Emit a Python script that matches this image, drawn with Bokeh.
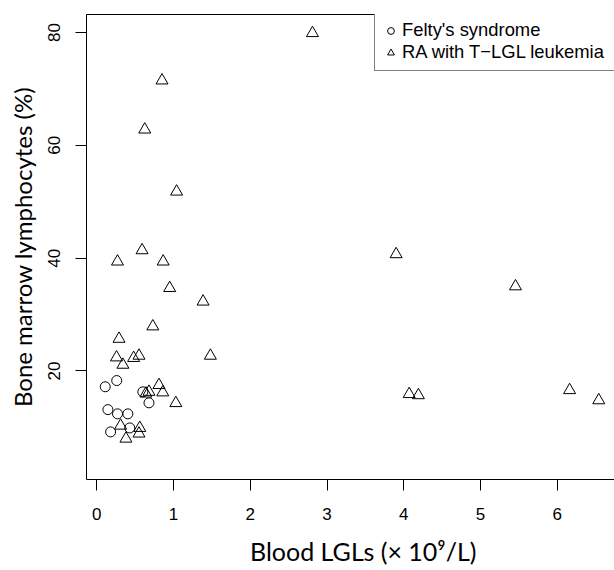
from bokeh.plotting import figure
from bokeh.models import (Range1d, FixedTicker, LinearAxis, Legend, LegendItem)
from bokeh.embed import file_html
from bokeh.resources import INLINE

# Felty's syndrome (circles)
felty_x = [0.11, 0.26, 0.60, 0.68, 0.145, 0.27, 0.405, 0.43, 0.18]
felty_y = [17.2, 18.3, 16.3, 14.35, 13.15, 12.4, 12.4, 9.9, 9.2]

# RA with T-LGL leukemia (triangles)
ra_x = [2.81, 0.85, 0.625, 1.04, 0.59, 3.90, 0.27, 0.865, 0.95, 5.455, 1.385,
        0.73, 0.29, 0.257, 0.34, 0.48, 0.55, 1.48, 0.81, 0.64, 0.68, 0.86,
        1.03, 4.07, 4.19, 6.16, 6.54, 0.31, 0.56, 0.55, 0.38]
ra_y = [79.9, 71.5, 62.8, 51.8, 41.4, 40.7, 39.4, 39.4, 34.7, 35.0, 32.3,
        27.9, 25.7, 22.4, 21.1, 22.3, 22.7, 22.7, 17.5, 16.0, 16.3, 16.2,
        14.3, 15.9, 15.7, 16.6, 14.8, 10.3, 9.9, 8.9, 8.0]

x_ticks = [0, 1, 2, 3, 4, 5, 6]
y_ticks = [20, 40, 60, 80]
legend_labels = ["Felty's syndrome", "RA with T\u2212LGL leukemia"]
x_title = "Blood LGLs (\u00d7 10\u2079/L)"
y_title = "Bone marrow lymphocytes (%)"

TICK_FONT = "Liberation Sans"
TITLE_FONT = "Lato"

p = figure(width=614, height=570, output_backend="svg", toolbar_location=None,
           x_range=Range1d(-0.134, 6.745), y_range=Range1d(0.76, 83.2),
           min_border_left=86, min_border_right=0, min_border_top=14,
           min_border_bottom=91, x_axis_location=None, y_axis_location=None)
p.outline_line_color = None
p.grid.visible = False
p.background_fill_color = "white"
p.border_fill_color = "white"

def style_axis(ax):
    ax.axis_line_color = "black"
    ax.axis_line_width = 1
    ax.major_tick_line_color = "black"
    ax.major_tick_in = 0
    ax.major_tick_out = 11
    ax.minor_tick_line_color = None
    ax.major_label_text_font = TICK_FONT
    ax.major_label_text_font_size = "17px"
    ax.major_label_text_color = "black"
    ax.axis_label_text_font = TITLE_FONT
    ax.axis_label_text_font_style = "normal"
    ax.axis_label_text_color = "black"

xaxis = LinearAxis(ticker=FixedTicker(ticks=x_ticks))
style_axis(xaxis)
xaxis.major_label_standoff = 17
# leading no-break spaces shift the centred title right, as in the reference
xaxis.axis_label = "\u00a0" * 4 + x_title
xaxis.axis_label_text_font_size = "25px"
xaxis.axis_label_standoff = 13
p.add_layout(xaxis, "below")

yaxis = LinearAxis(ticker=FixedTicker(ticks=y_ticks))
style_axis(yaxis)
yaxis.major_label_standoff = 15
yaxis.major_label_orientation = "vertical"
yaxis.axis_label = y_title
yaxis.axis_label_text_font_size = "24px"
yaxis.axis_label_standoff = 9
p.add_layout(yaxis, "left")

top = LinearAxis(ticker=FixedTicker(ticks=[]))
top.axis_line_color = "black"
top.major_tick_out = 0
top.major_tick_in = 0
top.minor_tick_line_color = None
top.major_label_standoff = 0
top.major_label_text_font_size = "0px"
p.add_layout(top, "above")

r_c = p.scatter(felty_x, felty_y, marker="circle", size=10, fill_color=None,
                line_color="black", line_width=1)
r_t = p.scatter(ra_x, ra_y, marker="triangle", size=12, fill_color=None,
                line_color="black", line_width=1)

legend = Legend(items=[LegendItem(label=legend_labels[0], renderers=[r_c]),
                       LegendItem(label=legend_labels[1], renderers=[r_t])],
                location=(288, 408), orientation="vertical")
legend.border_line_color = "black"
legend.border_line_width = 1
legend.background_fill_color = "white"
legend.background_fill_alpha = 1
legend.padding = 7
legend.spacing = 0
legend.margin = 0
legend.glyph_width = 17
legend.glyph_height = 21
legend.label_height = 21
legend.label_width = 230
legend.label_standoff = 3
legend.label_text_font = TICK_FONT
legend.label_text_font_size = "18.4px"
legend.label_text_color = "black"
p.add_layout(legend, "center")

open("out.html", "w").write(file_html(p, INLINE))
